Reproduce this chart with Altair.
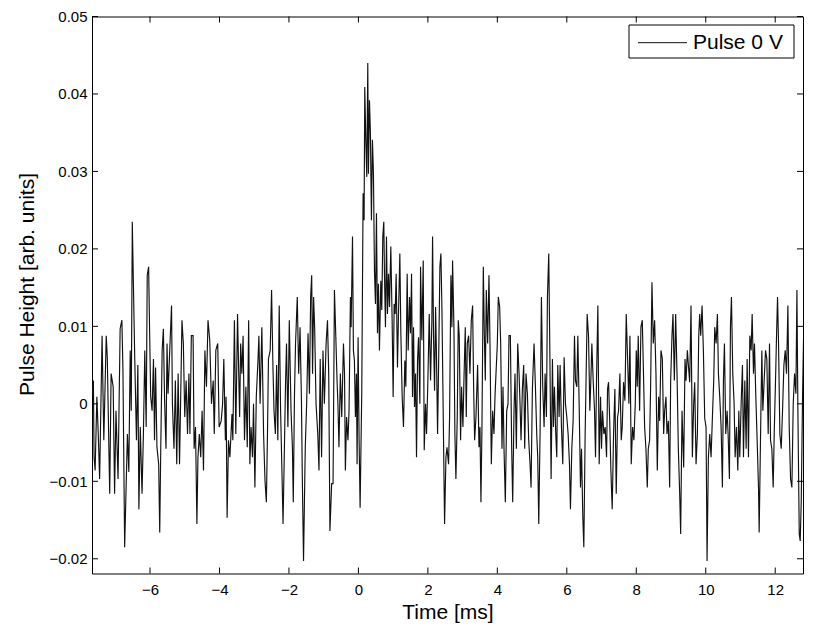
import altair as alt
import pandas as pd

# Signal samples: (time in ms, pulse height in units of 1e-3)
seg1 = [(-7.67, 0.9), (-7.63, 3.0), (-7.61, -6.9), (-7.58, -8.6), (-7.53, 0.9), (-7.49, -3.9), (-7.45, -9.7),
        (-7.38, 8.8), (-7.33, -4.7), (-7.26, 8.8), (-7.23, 6.0), (-7.16, -11.6), (-7.12, 3.9), (-7.06, 2.2),
        (-7.02, -11.6), (-6.98, -0.9), (-6.92, -9.7), (-6.86, 9.7), (-6.81, 10.8), (-6.78, 4.7), (-6.73, -18.5),
        (-6.65, -3.9), (-6.61, -8.8), (-6.57, 6.9), (-6.54, -0.9), (-6.51, 23.5), (-6.44, 6.0), (-6.39, -4.7),
        (-6.35, 5.0), (-6.32, -13.6), (-6.28, -3.0), (-6.23, -11.6), (-6.19, -3.9), (-6.15, 6.9), (-6.11, -3.0),
        (-6.08, 16.6), (-6.04, 17.7), (-6.01, 9.1), (-5.98, 0.9), (-5.94, -0.9), (-5.90, 5.8), (-5.87, -4.7),
        (-5.84, 4.7), (-5.80, -5.6), (-5.75, -7.8), (-5.72, -16.6), (-5.69, -5.6), (-5.65, 6.9), (-5.615, 9.7),
        (-5.58, 0.4), (-5.54, -5.8), (-5.51, 7.8), (-5.48, 1.3), (-5.44, 6.0), (-5.38, 12.7), (-5.355, 0.0),
        (-5.31, -5.8), (-5.27, 3.0), (-5.23, -7.8), (-5.19, 3.9), (-5.15, -7.8), (-5.115, 1.3), (-5.08, 10.8),
        (-5.04, 7.8), (-5.00, -1.7), (-4.96, 3.0), (-4.92, -3.9), (-4.88, 3.9), (-4.85, -3.9), (-4.81, 8.8),
        (-4.76, 8.8), (-4.73, -5.8), (-4.69, -3.0), (-4.65, -15.5), (-4.62, -6.9), (-4.58, -3.9), (-4.54, -6.9),
        (-4.50, -0.9), (-4.46, -8.6), (-4.42, 6.9), (-4.375, 2.2), (-4.33, 10.8), (-4.28, 8.2), (-4.23, 0.0),
        (-4.18, 3.0)]

seg2 = [(-4.15, -3.9), (-4.105, 6.9), (-4.05, 7.8), (-4.01, -3.0), (-3.95, -2.2), (-3.91, 0.0), (-3.875, 5.8),
        (-3.83, -4.7), (-3.81, 0.9), (-3.78, -14.7), (-3.74, -4.7), (-3.70, -6.9), (-3.64, -1.3), (-3.615, -4.7),
        (-3.57, 10.8), (-3.53, -3.9), (-3.48, 11.6), (-3.42, -1.7), (-3.39, 7.8), (-3.355, 3.9), (-3.32, 8.8),
        (-3.28, -4.7), (-3.24, 2.2), (-3.20, -5.6), (-3.16, 10.8), (-3.125, -7.8), (-3.09, -3.0), (-3.05, -6.9),
        (-3.02, 0.0), (-2.98, -10.8), (-2.94, 0.9), (-2.89, 5.8), (-2.865, 8.8), (-2.83, 0.0), (-2.78, 9.9),
        (-2.73, -3.9), (-2.69, -9.9), (-2.65, -12.7), (-2.615, -3.0), (-2.59, 5.8), (-2.54, 6.9), (-2.50, 14.7),
        (-2.46, 4.7), (-2.43, -0.9), (-2.39, -3.9), (-2.355, 5.0), (-2.32, -4.7), (-2.28, 12.7), (-2.24, -0.9),
        (-2.20, -9.1), (-2.17, -15.5), (-2.135, -6.9), (-2.10, 2.2), (-2.07, 7.8), (-2.03, -3.0), (-1.99, 10.8),
        (-1.94, -0.9), (-1.90, -5.6), (-1.875, -12.7), (-1.84, 1.3), (-1.81, 7.8), (-1.76, 13.8), (-1.72, 3.9),
        (-1.68, 9.9), (-1.64, 0.4), (-1.615, -9.5), (-1.58, -20.3), (-1.53, -5.6), (-1.49, 0.0), (-1.45, 9.1),
        (-1.41, 1.3), (-1.375, 13.8), (-1.345, 16.6), (-1.32, 3.9), (-1.29, 13.8), (-1.26, 9.9), (-1.22, 0.0),
        (-1.17, -3.9), (-1.135, -8.6), (-1.10, 5.8), (-1.06, -6.9), (-1.02, 6.9), (-0.98, 0.0), (-0.93, 7.8),
        (-0.89, 10.8), (-0.855, 3.9), (-0.82, -16.4)]

seg3 = [(-0.77, -10.3), (-0.73, -10.3), (-0.69, 14.7), (-0.65, 8.6), (-0.615, 3.0), (-0.59, 0.0), (-0.56, -5.6),
        (-0.52, 3.9), (-0.48, -1.7), (-0.43, 7.8), (-0.40, 3.9), (-0.375, -8.6), (-0.34, -1.7), (-0.30, -4.7),
        (-0.27, -0.9), (-0.23, 13.8), (-0.21, 9.9), (-0.17, 21.6), (-0.144, 6.9), (-0.115, 5.6), (-0.086, -1.7),
        (-0.057, 3.9), (-0.038, -7.8), (-0.009, 8.6), (0.02, -4.7), (0.049, -13.4), (0.097, 1.7), (0.135, 27.2),
        (0.164, 23.7), (0.183, 40.9), (0.212, 34.1), (0.241, 29.3), (0.27, 44.0), (0.289, 29.7), (0.318, 39.2),
        (0.346, 34.9), (0.375, 23.7), (0.404, 34.1), (0.433, 29.7), (0.462, 17.2), (0.491, 12.9), (0.52, 24.6),
        (0.549, 9.1), (0.577, 15.5), (0.606, 6.9), (0.645, 15.9), (0.673, 12.1), (0.702, 21.6), (0.731, 23.5),
        (0.75, 16.8), (0.779, 9.9), (0.808, 21.6), (0.837, 11.6), (0.866, 16.8), (0.895, 12.5), (0.933, 20.3),
        (0.971, 10.8), (1.0, 0.9), (1.029, 12.9), (1.058, 11.6), (1.087, 16.8), (1.125, 4.7), (1.154, 11.6),
        (1.193, 19.4), (1.222, 9.1), (1.26, 0.9), (1.298, -3.0), (1.337, 5.6), (1.366, 2.2), (1.404, 16.8),
        (1.433, 6.9), (1.472, 13.8), (1.50, 9.1), (1.53, 16.8), (1.558, 0.9), (1.587, 9.9), (1.615, -0.4),
        (1.645, 3.9), (1.673, -6.9), (1.702, 5.6), (1.731, 8.6), (1.77, 0.0), (1.789, 17.7), (1.827, 8.2),
        (1.866, 18.5), (1.895, -6.0), (1.933, 0.0), (1.962, -3.9), (2.0, 3.0), (2.039, 11.6), (2.077, 3.0),
        (2.115, 10.8), (2.135, 21.6), (2.164, 8.2), (2.193, 1.7), (2.222, 12.5), (2.25, 5.6), (2.279, -3.9),
        (2.308, 4.7), (2.346, 17.7), (2.375, 19.4), (2.404, 12.5), (2.443, -1.7), (2.481, -15.5), (2.52, -6.9),
        (2.55, -5.6)]

seg4 = [(2.596, -7.8), (2.625, -1.7), (2.663, 16.6), (2.692, 9.9), (2.711, 18.5), (2.75, 9.9), (2.778, -3.9),
        (2.807, -9.7), (2.846, -1.7), (2.875, 10.8), (2.903, 8.8), (2.942, -4.7), (2.971, 2.2), (3.009, -3.0),
        (3.038, 3.0), (3.077, 9.9), (3.105, -1.7), (3.134, 7.8), (3.173, 8.8), (3.211, 3.9), (3.25, 10.8),
        (3.288, 12.7), (3.317, 2.2), (3.346, -4.7), (3.384, -1.7), (3.432, 5.0), (3.471, -5.6), (3.50, -3.0),
        (3.528, -12.7), (3.557, -3.0), (3.596, 17.7), (3.625, 9.1), (3.653, 3.0), (3.682, 14.7), (3.721, 7.8),
        (3.759, 16.6), (3.788, 7.8), (3.827, -7.8), (3.865, -0.9), (3.903, -3.9), (3.932, 0.9), (3.961, 3.9),
        (4.0, 7.8), (4.028, 13.8), (4.067, 12.5), (4.096, 7.8), (4.134, -5.8), (4.163, 2.2), (4.192, -5.8),
        (4.23, -12.7), (4.269, -0.9), (4.307, 0.0), (4.336, 8.8), (4.375, 8.8), (4.413, -5.8), (4.442, -12.7),
        (4.48, -0.9), (4.509, 3.9), (4.548, -5.8), (4.586, 7.8), (4.625, 3.9), (4.653, 0.0), (4.682, -4.7),
        (4.721, 1.9), (4.759, 5.0), (4.788, -5.8), (4.826, 3.9), (4.865, 1.3), (4.903, -4.7), (4.942, -7.8),
        (4.971, -10.8), (5.009, 1.9), (5.057, 7.8), (5.096, 2.2), (5.134, -3.9), (5.163, -6.9), (5.192, -15.5),
        (5.23, -3.9), (5.269, 13.8), (5.307, 2.2), (5.346, -3.0), (5.375, 3.9), (5.413, -1.7), (5.442, 13.8),
        (5.48, 19.4), (5.509, 7.8), (5.548, -9.7), (5.586, 5.8), (5.615, -3.0), (5.644, 2.2), (5.682, -3.9),
        (5.711, -6.9), (5.74, 5.0), (5.778, -1.7), (5.807, 5.0), (5.846, -3.0), (5.884, -7.8), (5.923, 6.0),
        (5.961, 0.0)]

seg5 = [(6.0, -1.7), (6.038, -3.9), (6.077, -7.8), (6.105, -13.6), (6.144, -5.8), (6.182, -2.2), (6.221, 8.8),
        (6.25, 3.0), (6.288, 2.2), (6.317, 8.8), (6.355, 0.0), (6.394, -10.8), (6.423, -5.8), (6.461, -14.7),
        (6.49, -18.5), (6.528, -3.9), (6.557, 3.9), (6.586, 11.6), (6.625, 8.8), (6.663, -0.9), (6.692, 3.0),
        (6.721, 7.8), (6.759, 3.0), (6.798, -0.9), (6.827, -6.9), (6.855, 3.0), (6.894, 12.7), (6.932, -7.8),
        (6.971, 0.9), (7.0, -5.8), (7.028, -0.9), (7.067, -3.9), (7.105, -3.0), (7.144, -6.9), (7.173, 1.9),
        (7.202, 2.8), (7.24, -3.0), (7.269, -8.6), (7.307, -13.6), (7.346, -3.9), (7.384, 1.9), (7.423, -11.6),
        (7.461, -1.7), (7.49, -0.9), (7.528, 3.9), (7.567, -4.7), (7.596, -3.0), (7.634, 2.8), (7.673, 0.4),
        (7.711, 11.6), (7.75, 5.8), (7.788, 0.0), (7.817, 8.8), (7.855, -7.8), (7.894, -3.0), (7.932, -4.7),
        (7.971, 0.0), (8.0, 6.9), (8.028, 2.2), (8.057, 8.8), (8.096, -0.9), (8.134, 9.9), (8.173, 10.8),
        (8.202, 5.0), (8.24, -3.0), (8.278, -5.8), (8.317, -10.8), (8.346, -5.8), (8.384, -4.7), (8.413, 2.2),
        (8.451, 15.7), (8.49, 7.8), (8.528, 10.8), (8.567, 3.9), (8.605, -8.6), (8.644, 0.9), (8.673, -2.2),
        (8.711, 6.9), (8.75, 5.8), (8.788, -3.9), (8.817, -0.9), (8.855, 0.9), (8.884, -3.9), (8.923, -2.2),
        (8.961, -10.8), (8.99, 3.0), (9.028, 8.8), (9.057, 11.6), (9.096, 3.0), (9.134, 11.6), (9.173, 3.9),
        (9.211, -5.8), (9.25, -11.6), (9.278, -16.8), (9.317, -0.9)]

seg6 = [(9.365, -8.2), (9.403, 5.8), (9.432, 3.0), (9.471, 6.9), (9.5, 5.0), (9.538, 2.8), (9.576, 12.7),
        (9.615, -6.9), (9.653, 0.0), (9.682, 2.8), (9.721, -7.8), (9.759, -3.9), (9.798, 8.8), (9.826, 11.6),
        (9.855, 8.8), (9.894, 12.7), (9.932, 6.9), (9.971, -1.9), (10.009, -3.0), (10.038, -20.3), (10.076, -6.9),
        (10.115, -3.9), (10.153, -6.9), (10.192, -1.7), (10.23, 3.0), (10.259, 9.9), (10.298, 7.8), (10.336, 11.6),
        (10.365, 3.9), (10.403, 0.9), (10.442, -3.0), (10.48, -10.8), (10.509, 3.0), (10.538, 7.8), (10.576, -3.9),
        (10.615, -0.9), (10.644, -3.9), (10.682, -9.7), (10.711, 9.9), (10.74, 13.8), (10.778, 3.9), (10.817, 0.0),
        (10.846, -6.9), (10.884, -3.0), (10.923, -8.6), (10.952, -0.9), (10.98, -6.9), (11.019, 0.0), (11.057, 5.0),
        (11.086, -6.9), (11.125, 3.0), (11.163, -5.8), (11.192, 5.8), (11.23, -6.9), (11.269, 8.8), (11.307, 6.9),
        (11.336, 11.6), (11.375, 3.9), (11.403, 7.8), (11.442, 0.9), (11.48, -4.7), (11.519, -10.8),
        (11.538, -16.6), (11.576, -4.7), (11.615, 6.9), (11.644, -0.9), (11.682, 3.0), (11.721, 6.9),
        (11.759, 5.8), (11.798, -3.9), (11.836, 7.8), (11.865, -4.7), (11.903, -5.8), (11.942, -10.8),
        (11.971, -3.9), (12.009, 3.0), (12.038, 8.8), (12.067, 13.8), (12.096, 7.8), (12.134, -3.9),
        (12.173, -5.8), (12.211, -0.9), (12.25, 5.0), (12.288, 6.9), (12.326, 3.9), (12.365, 12.7),
        (12.403, -3.0), (12.442, -9.7), (12.48, -10.8), (12.519, 0.0), (12.557, 3.9), (12.596, 1.3),
        (12.625, 14.7), (12.653, -0.9), (12.692, -16.8), (12.72, -17.7), (12.75, -12.5), (12.788, 1.3),
        (12.817, 8.8)]

x_ticks = [-6, -4, -2, 0, 2, 4, 6, 8, 10, 12]
y_ticks = [-0.02, -0.01, 0, 0.01, 0.02, 0.03, 0.04, 0.05]
x_domain = [-7.67, 12.8]
y_domain = [-0.0219, 0.05]
series_name = "Pulse 0 V"

W, H = 711, 557
TICK = 6
FONT = "Liberation Sans"
LINE_COLOR = "#111111"

rows = [(t, v / 1000.0) for seg in (seg1, seg2, seg3, seg4, seg5, seg6) for t, v in seg]
df = pd.DataFrame(rows, columns=["time", "height"])
df["series"] = series_name

xs = alt.Scale(domain=x_domain, nice=False, zero=False)
ys = alt.Scale(domain=y_domain, nice=False, zero=False)

xaxis = alt.Axis(values=x_ticks, format="d", title="Time [ms]", ticks=False, tickSize=0,
                 domain=False, grid=False, labelPadding=9, titleY=39, titleBaseline="middle")
yaxis = alt.Axis(values=y_ticks, format=".2~f", title="Pulse Height [arb. units]", ticks=False,
                 tickSize=0, domain=False, grid=False, labelPadding=5, titleX=-65, titleY=267.5,
                 titleBaseline="middle")

line = alt.Chart(df).mark_line(color=LINE_COLOR, strokeWidth=1.15, clip=True).encode(
    x=alt.X("time:Q", scale=xs, axis=xaxis),
    y=alt.Y("height:Q", scale=ys, axis=yaxis),
)

xt_df = pd.DataFrame({"time": x_ticks})
yt_df = pd.DataFrame({"height": y_ticks})

xt_bottom = alt.Chart(xt_df).mark_rule(color="black", strokeWidth=1).encode(
    x=alt.X("time:Q", scale=xs, axis=xaxis), y=alt.value(H), y2=alt.value(H - TICK))
xt_top = alt.Chart(xt_df).mark_rule(color="black", strokeWidth=1).encode(
    x=alt.X("time:Q", scale=xs, axis=xaxis), y=alt.value(0), y2=alt.value(TICK))
yt_left = alt.Chart(yt_df).mark_rule(color="black", strokeWidth=1).encode(
    y=alt.Y("height:Q", scale=ys, axis=yaxis), x=alt.value(0), x2=alt.value(TICK))
yt_right = alt.Chart(yt_df).mark_rule(color="black", strokeWidth=1).encode(
    y=alt.Y("height:Q", scale=ys, axis=yaxis), x=alt.value(W), x2=alt.value(W - TICK))

leg_df = pd.DataFrame({"series": [series_name]})
leg_box = alt.Chart(leg_df).mark_rect(fill="white", stroke="black", strokeWidth=1).encode(
    x=alt.value(537), x2=alt.value(702), y=alt.value(8.5), y2=alt.value(41.5))
leg_line = alt.Chart(leg_df).mark_rule(color=LINE_COLOR, strokeWidth=1).encode(
    x=alt.value(546), x2=alt.value(595), y=alt.value(26.2))
leg_text = alt.Chart(leg_df).mark_text(align="left", baseline="middle", font=FONT, fontSize=21,
                                       color="black").encode(
    x=alt.value(601), y=alt.value(26.5), text="series:N")

chart = alt.layer(line, xt_bottom, xt_top, yt_left, yt_right, leg_box, leg_line, leg_text).properties(
    width=W, height=H,
    autosize=alt.AutoSizeParams(type="none"),
    padding={"left": 84, "top": 8.5, "right": 10, "bottom": 52},
    background="white",
).configure_view(
    stroke="black", strokeWidth=1
).configure_axis(
    labelFont=FONT, labelFontSize=15, labelColor="black",
    titleFont=FONT, titleFontSize=21, titleFontWeight="normal", titleColor="black",
)

chart.save("out.html", embed_options={"renderer": "svg", "actions": False})
